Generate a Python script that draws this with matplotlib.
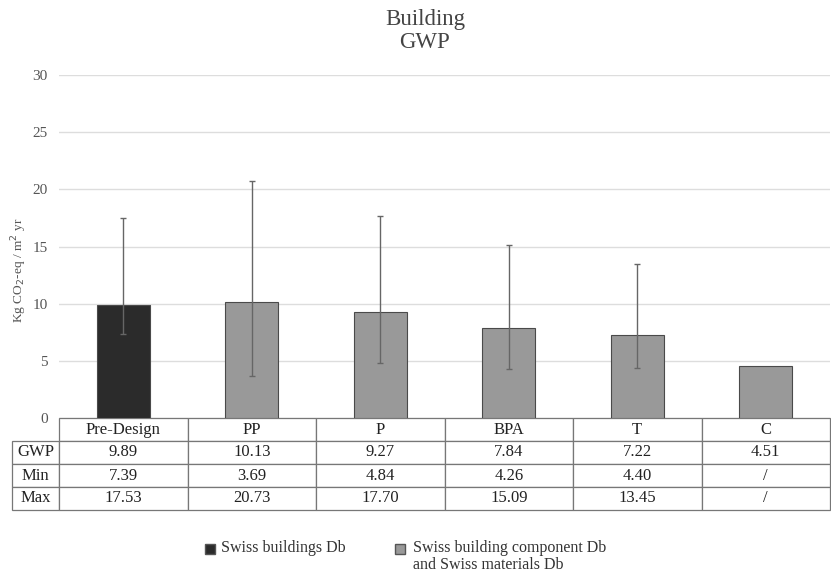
import numpy as np
import matplotlib.pyplot as plt
from matplotlib.lines import Line2D
from matplotlib.patches import Rectangle

# données
phases = ["Pre-Design", "PP", "P", "BPA", "T", "C"]
gwp = [9.89, 10.13, 9.27, 7.84, 7.22, 4.51]
gwp_min = [7.39, 3.69, 4.84, 4.26, 4.40, np.nan]
gwp_max = [17.53, 20.73, 17.70, 15.09, 13.45, np.nan]
row_labels = ["GWP", "Min", "Max"]
legend_labels = ["Swiss buildings Db", "Swiss building component Db\nand Swiss materials Db"]
legend_colors = ["#2b2b2b", "#999999"]

plt.rcParams["font.family"] = ["Liberation Serif", "DejaVu Serif"]

W, H = 831, 572
fig = plt.figure(figsize=(W/100, H/100), dpi=100)
ax = fig.add_axes([59/W, 1-418/H, 771/W, 343/H])

x = np.arange(len(phases))
couleurs = [legend_colors[0]] + [legend_colors[1]] * (len(phases) - 1)
ax.bar(x, gwp, width=0.41, color=couleurs, edgecolor="#4a4a4a", linewidth=0.8, zorder=2)

g, lo, hi = np.array(gwp), np.array(gwp_min), np.array(gwp_max)
ax.errorbar(x, g, yerr=[g - lo, hi - g], fmt="none", ecolor="#666666",
            elinewidth=1.0, capsize=2.5, capthick=1.0, zorder=3)

ax.set_xlim(-0.5, len(phases) - 0.5)
ax.set_ylim(0, 30)
ax.set_yticks(range(0, 31, 5))
ax.set_xticks([])
ax.grid(axis="y", color="#dddddd", linewidth=1.0, zorder=0)
for s in ax.spines.values():
    s.set_visible(False)
ax.tick_params(axis="y", length=0, labelsize=11, labelcolor="#555555", pad=8)
ax.set_ylabel("Kg CO$_2$-eq / m$^2$ yr", fontsize=9.6, color="#555555")
ax.yaxis.set_label_coords(-30/771, 0.43)

fig.text(425/W, 1-9/H, "Building\nGWP", ha="center", va="top", fontsize=16.5,
         color="#444444", linespacing=1.12)

# ── tableau (dessiné à la main, coordonnées de l'axe) ──
fmt = lambda v: "/" if np.isnan(v) else f"{v:.2f}"
lignes = [[fmt(v) for v in gwp], [fmt(v) for v in gwp_min], [fmt(v) for v in gwp_max]]
ay = lambda px: -(px - 418) / 343          # pixel vertical -> axe
bords = [418, 441, 464, 487, 510]
n = len(phases)
lab_w = 47 / 771

def cellule(x0, w, r, txt):
    y0, y1 = ay(bords[r + 1]), ay(bords[r])
    ax.add_patch(Rectangle((x0, y0), w, y1 - y0, transform=ax.transAxes,
                           facecolor="white", edgecolor="#777777", lw=0.9, clip_on=False))
    ax.text(x0 + w / 2, (y0 + y1) / 2, txt, transform=ax.transAxes, ha="center",
            va="center", fontsize=12, color="#222222", clip_on=False)

for j, p in enumerate(phases):
    cellule(j / n, 1 / n, 0, p)
for i, (lab, vals) in enumerate(zip(row_labels, lignes)):
    cellule(-lab_w, lab_w, i + 1, lab)
    for j, v in enumerate(vals):
        cellule(j / n, 1 / n, i + 1, v)

# légende (faite à la main pour aligner la 1re ligne)
for xm, xt, lab, col in zip([210, 400], [221, 413], legend_labels, legend_colors):
    fig.add_artist(Line2D([xm/W], [1-549/H], marker="s", markersize=7, linestyle="",
                          markerfacecolor=col, markeredgecolor="#555555",
                          transform=fig.transFigure))
    fig.text(xt/W, 1-540/H, lab, ha="left", va="top", fontsize=11.5,
             color="#333333", linespacing=1.05)

fig.savefig("out.png", dpi=100)
